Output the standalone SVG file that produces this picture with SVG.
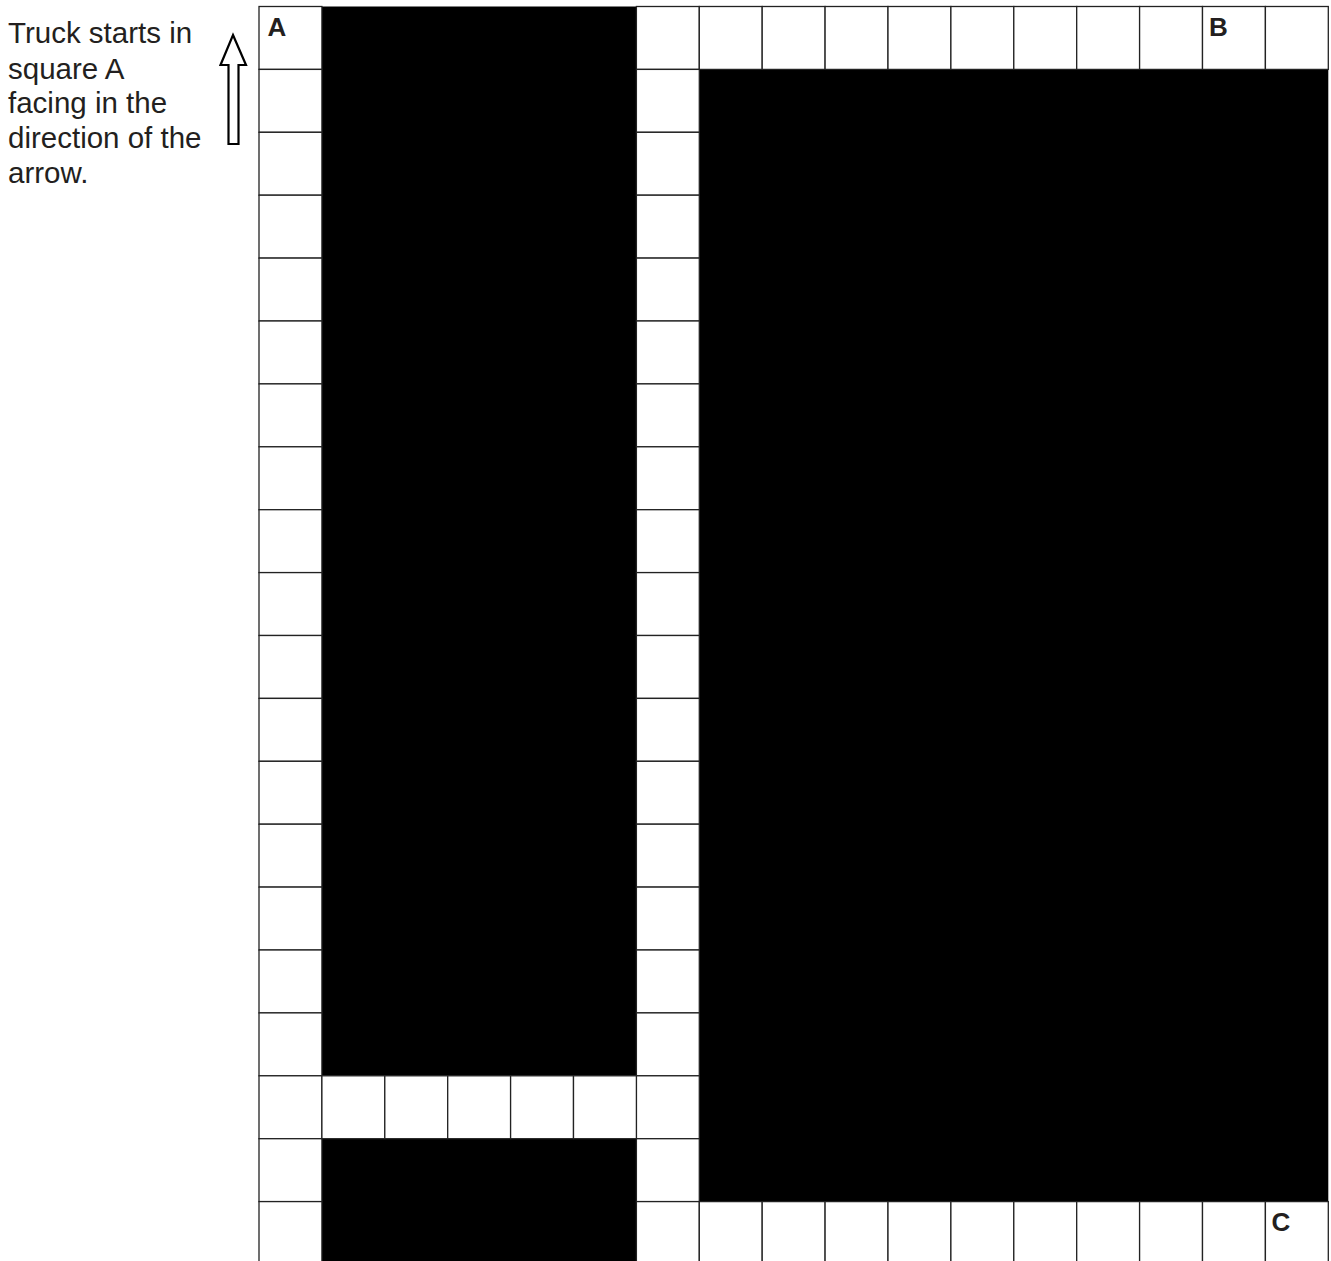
<svg xmlns="http://www.w3.org/2000/svg" width="1331" height="1261" viewBox="0 0 1331 1261">
<style>
.cell{fill:#fff;stroke:#222;stroke-width:1.3}
.blk{fill:#000}
.lbl{font-family:"Liberation Sans",Arial,sans-serif;font-weight:bold;font-size:26px;fill:#231f20}
.txt{font-family:"Liberation Sans",Arial,sans-serif;font-size:29.5px;fill:#231f20}
</style>
<rect width="1331" height="1261" fill="#fff"/>
<g id="caption">
<text class="txt" x="8" y="43">Truck starts in</text>
<text class="txt" x="8" y="78.5">square A</text>
<text class="txt" x="8" y="113">facing in the</text>
<text class="txt" x="8" y="148">direction of the</text>
<text class="txt" x="8" y="183">arrow.</text>
</g>
<g id="arrow">
<polygon points="233,35 246,65 238.5,65 238.5,144 228.5,144 228.5,65 220.5,65" fill="#fff" stroke="#000" stroke-width="2.2" stroke-linejoin="miter"/>
</g>
<g id="blocks">
<rect class="blk" x="321.9" y="6.5" width="314.5" height="1069.3"/>
<rect class="blk" x="321.9" y="1138.7" width="314.5" height="130"/>
<rect class="blk" x="699.3" y="69.4" width="629" height="1132.2"/>
</g>
<g id="col0">
<rect class="cell" x="259" y="6.5" width="62.9" height="62.9"/>
<rect class="cell" x="259" y="69.4" width="62.9" height="62.9"/>
<rect class="cell" x="259" y="132.3" width="62.9" height="62.9"/>
<rect class="cell" x="259" y="195.2" width="62.9" height="62.9"/>
<rect class="cell" x="259" y="258.1" width="62.9" height="62.9"/>
<rect class="cell" x="259" y="321" width="62.9" height="62.9"/>
<rect class="cell" x="259" y="383.9" width="62.9" height="62.9"/>
<rect class="cell" x="259" y="446.8" width="62.9" height="62.9"/>
<rect class="cell" x="259" y="509.7" width="62.9" height="62.9"/>
<rect class="cell" x="259" y="572.6" width="62.9" height="62.9"/>
<rect class="cell" x="259" y="635.5" width="62.9" height="62.9"/>
<rect class="cell" x="259" y="698.4" width="62.9" height="62.9"/>
<rect class="cell" x="259" y="761.3" width="62.9" height="62.9"/>
<rect class="cell" x="259" y="824.2" width="62.9" height="62.9"/>
<rect class="cell" x="259" y="887.1" width="62.9" height="62.9"/>
<rect class="cell" x="259" y="950" width="62.9" height="62.9"/>
<rect class="cell" x="259" y="1012.9" width="62.9" height="62.9"/>
<rect class="cell" x="259" y="1075.8" width="62.9" height="62.9"/>
<rect class="cell" x="259" y="1138.7" width="62.9" height="62.9"/>
<rect class="cell" x="259" y="1201.6" width="62.9" height="62.9"/>
</g>
<g id="col6">
<rect class="cell" x="636.4" y="6.5" width="62.9" height="62.9"/>
<rect class="cell" x="636.4" y="69.4" width="62.9" height="62.9"/>
<rect class="cell" x="636.4" y="132.3" width="62.9" height="62.9"/>
<rect class="cell" x="636.4" y="195.2" width="62.9" height="62.9"/>
<rect class="cell" x="636.4" y="258.1" width="62.9" height="62.9"/>
<rect class="cell" x="636.4" y="321" width="62.9" height="62.9"/>
<rect class="cell" x="636.4" y="383.9" width="62.9" height="62.9"/>
<rect class="cell" x="636.4" y="446.8" width="62.9" height="62.9"/>
<rect class="cell" x="636.4" y="509.7" width="62.9" height="62.9"/>
<rect class="cell" x="636.4" y="572.6" width="62.9" height="62.9"/>
<rect class="cell" x="636.4" y="635.5" width="62.9" height="62.9"/>
<rect class="cell" x="636.4" y="698.4" width="62.9" height="62.9"/>
<rect class="cell" x="636.4" y="761.3" width="62.9" height="62.9"/>
<rect class="cell" x="636.4" y="824.2" width="62.9" height="62.9"/>
<rect class="cell" x="636.4" y="887.1" width="62.9" height="62.9"/>
<rect class="cell" x="636.4" y="950" width="62.9" height="62.9"/>
<rect class="cell" x="636.4" y="1012.9" width="62.9" height="62.9"/>
<rect class="cell" x="636.4" y="1075.8" width="62.9" height="62.9"/>
<rect class="cell" x="636.4" y="1138.7" width="62.9" height="62.9"/>
<rect class="cell" x="636.4" y="1201.6" width="62.9" height="62.9"/>
</g>
<g id="row0">
<rect class="cell" x="699.3" y="6.5" width="62.9" height="62.9"/>
<rect class="cell" x="762.2" y="6.5" width="62.9" height="62.9"/>
<rect class="cell" x="825.1" y="6.5" width="62.9" height="62.9"/>
<rect class="cell" x="888" y="6.5" width="62.9" height="62.9"/>
<rect class="cell" x="950.9" y="6.5" width="62.9" height="62.9"/>
<rect class="cell" x="1013.8" y="6.5" width="62.9" height="62.9"/>
<rect class="cell" x="1076.7" y="6.5" width="62.9" height="62.9"/>
<rect class="cell" x="1139.6" y="6.5" width="62.9" height="62.9"/>
<rect class="cell" x="1202.5" y="6.5" width="62.9" height="62.9"/>
<rect class="cell" x="1265.4" y="6.5" width="62.9" height="62.9"/>
</g>
<g id="row17">
<rect class="cell" x="321.9" y="1075.8" width="62.9" height="62.9"/>
<rect class="cell" x="384.8" y="1075.8" width="62.9" height="62.9"/>
<rect class="cell" x="447.7" y="1075.8" width="62.9" height="62.9"/>
<rect class="cell" x="510.6" y="1075.8" width="62.9" height="62.9"/>
<rect class="cell" x="573.5" y="1075.8" width="62.9" height="62.9"/>
</g>
<g id="row19">
<rect class="cell" x="699.3" y="1201.6" width="62.9" height="62.9"/>
<rect class="cell" x="762.2" y="1201.6" width="62.9" height="62.9"/>
<rect class="cell" x="825.1" y="1201.6" width="62.9" height="62.9"/>
<rect class="cell" x="888" y="1201.6" width="62.9" height="62.9"/>
<rect class="cell" x="950.9" y="1201.6" width="62.9" height="62.9"/>
<rect class="cell" x="1013.8" y="1201.6" width="62.9" height="62.9"/>
<rect class="cell" x="1076.7" y="1201.6" width="62.9" height="62.9"/>
<rect class="cell" x="1139.6" y="1201.6" width="62.9" height="62.9"/>
<rect class="cell" x="1202.5" y="1201.6" width="62.9" height="62.9"/>
<rect class="cell" x="1265.4" y="1201.6" width="62.9" height="62.9"/>
</g>
<g id="labels">
<text class="lbl" x="267.5" y="35.5">A</text>
<text class="lbl" x="1209" y="35.5">B</text>
<text class="lbl" x="1271.5" y="1230.5">C</text>
</g>
</svg>
